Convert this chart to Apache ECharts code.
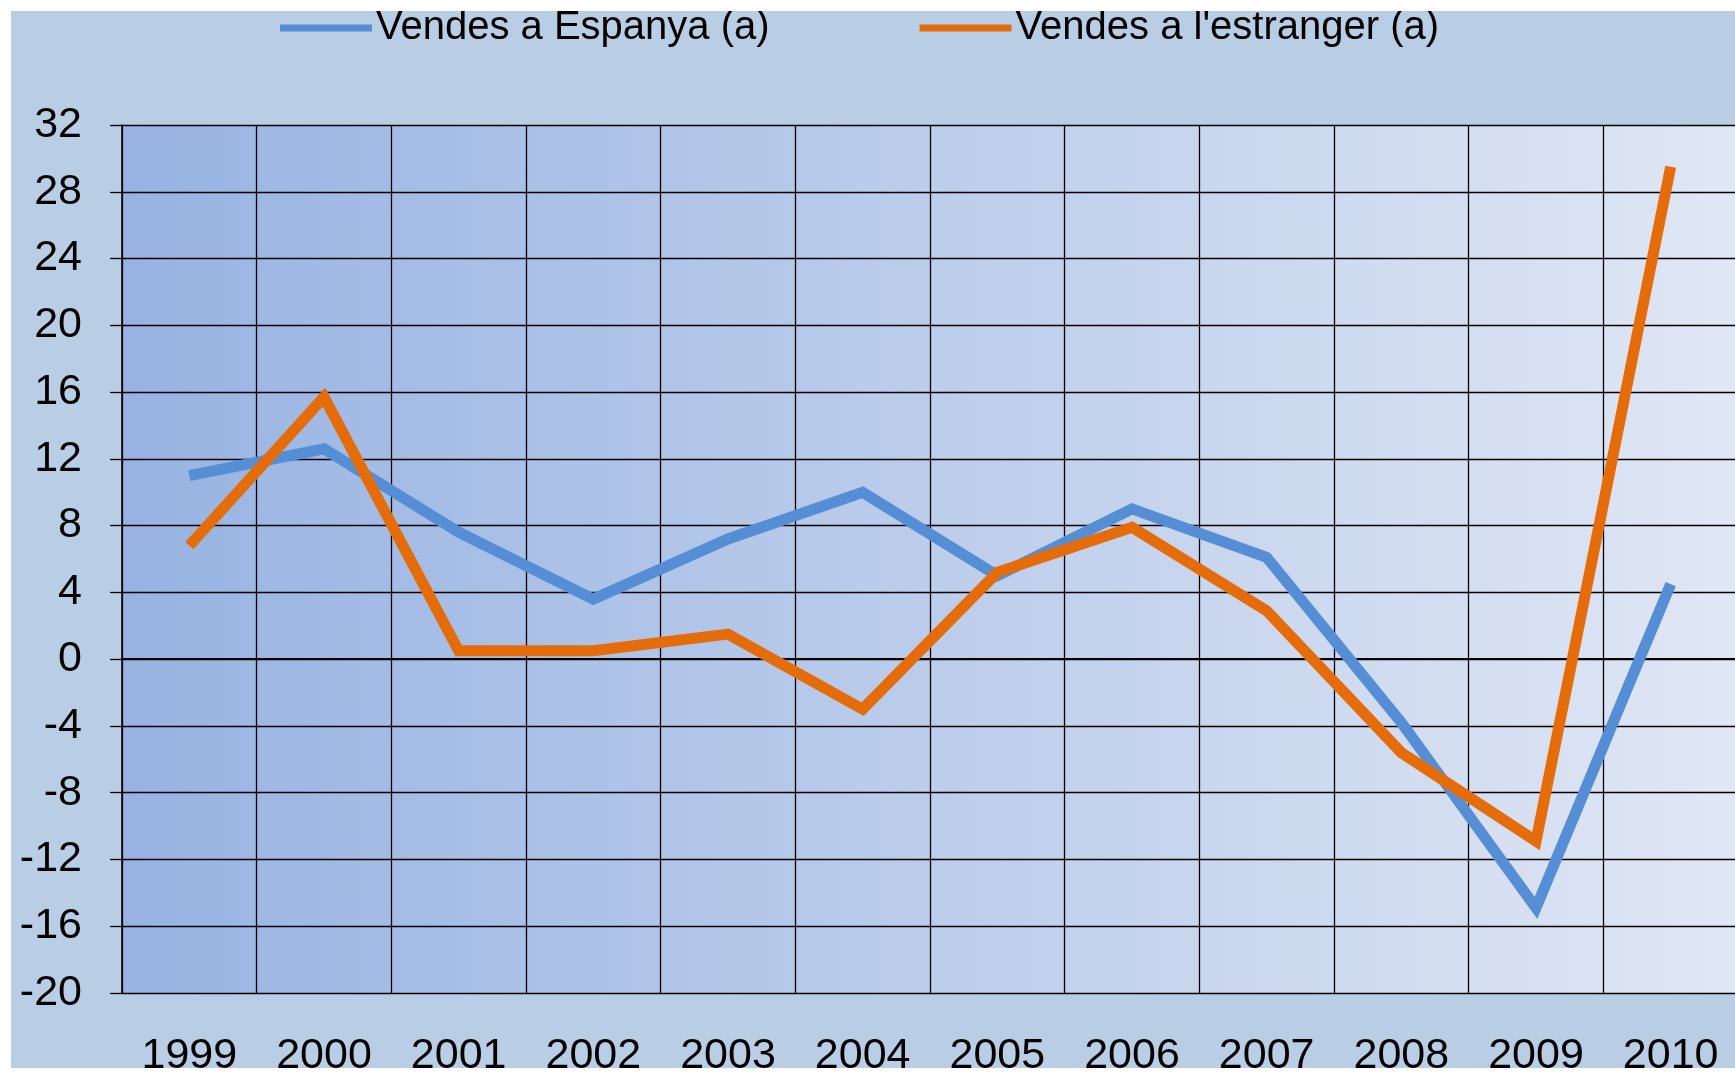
<!DOCTYPE html>
<html>
<head>
<meta charset="UTF-8">
<title>Vendes</title>
<script src="https://cdn.jsdelivr.net/npm/echarts@6/dist/echarts.min.js"></script>
<style>
  html, body { margin: 0; padding: 0; background: #ffffff; }
  #chart { position: absolute; left: 11px; top: 11px; width: 1724px; height: 1057px; }
</style>
</head>
<body>
<div id="chart"></div>
<script type="text/javascript">
var years = ['1999', '2000', '2001', '2002', '2003', '2004', '2005', '2006', '2007', '2008', '2009', '2010'];
var vendesEspanya = [11.0, 12.6, 7.6, 3.6, 7.2, 10.0, 5.0, 9.0, 6.1, -3.8, -14.9, 4.5];
var vendesEstranger = [6.8, 15.7, 0.5, 0.5, 1.5, -3.0, 5.2, 7.9, 2.9, -5.6, -10.9, 29.5];
var seriesNames = ['Vendes a Espanya (a)', "Vendes a l'estranger (a)"];

var myChart = echarts.init(document.getElementById('chart'));

var option = {
    backgroundColor: '#b9cde5',
    animation: false,
    textStyle: { fontFamily: 'Liberation Sans, Arial, sans-serif', color: '#000' },
    legend: {
        left: 264,
        top: -8,
        itemWidth: 92,
        itemHeight: 7,
        itemGap: 150,
        icon: 'rect',
        textStyle: { fontSize: 40, color: '#000', padding: [0, 0, 0, -1] },
        data: seriesNames
    },
    grid: {
        left: 111,
        top: 114,
        width: 1616,
        height: 868,
        show: true,
        borderWidth: 0,
        outerBoundsMode: 'none',
        containLabel: false,
        backgroundColor: new echarts.graphic.LinearGradient(0, 0, 1, 0, [
            { offset: 0, color: '#98b3e2' },
            { offset: 1, color: '#e0e7f4' }
        ])
    },
    xAxis: {
        type: 'category',
        data: years,
        boundaryGap: true,
        axisLine: { show: true, lineStyle: { color: '#000', width: 2 } },
        axisTick: { show: false },
        axisLabel: { fontSize: 43, color: '#000', margin: 42, interval: 0 },
        splitLine: { show: true, interval: 0, lineStyle: { color: '#000', width: 1.3 } }
    },
    yAxis: {
        type: 'value',
        min: -20,
        max: 32,
        interval: 4,
        axisLine: { show: true, lineStyle: { color: '#000', width: 1.5 } },
        axisTick: { show: true, length: 12, lineStyle: { color: '#000', width: 1.3 } },
        axisLabel: { fontSize: 43, color: '#000', margin: 40 },
        splitLine: { show: true, lineStyle: { color: '#000', width: 1.3 } }
    },
    series: [
        {
            name: seriesNames[0],
            type: 'line',
            data: vendesEspanya,
            symbol: 'none',
            color: '#558ed5',
            lineStyle: { width: 11, color: '#558ed5', join: 'miter' }
        },
        {
            name: seriesNames[1],
            type: 'line',
            data: vendesEstranger,
            symbol: 'none',
            color: '#e46c0a',
            lineStyle: { width: 11, color: '#e46c0a', join: 'miter' }
        }
    ]
};

myChart.setOption(option);
</script>
</body>
</html>
